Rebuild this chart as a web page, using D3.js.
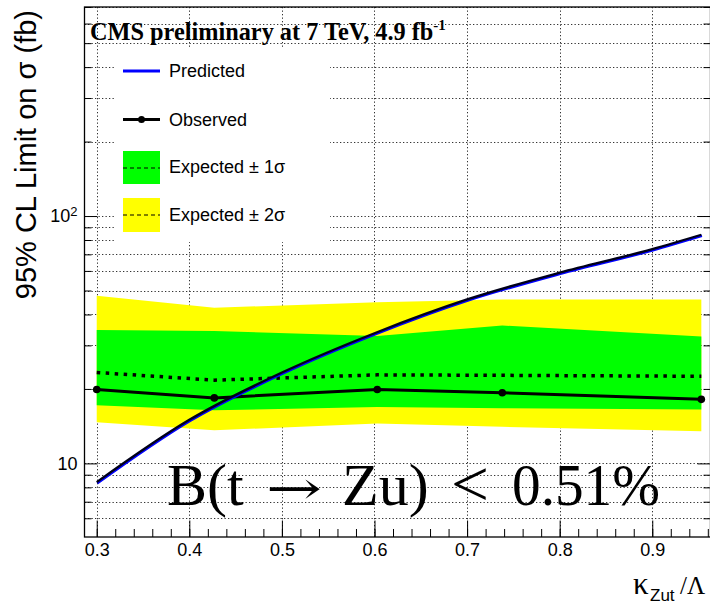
<!DOCTYPE html>
<html><head><meta charset="utf-8">
<script src="https://cdn.jsdelivr.net/npm/d3@7"></script>
<style>body{margin:0;background:#fff} svg{display:block}</style>
</head><body><svg id="c" width="710" height="607"></svg>
<script>
// ---- data ----
const kappa      = [0.3, 0.427, 0.603, 0.738, 0.953];
const observed   = [19.9, 18.4, 19.9, 19.3, 18.15];
const expected   = [23.3, 21.7, 22.8, 22.7, 22.5];
const band1Low   = [17.2, 16.4, 16.9, 16.7, 16.5];
const band1High  = [34.6, 34.3, 32.7, 36.1, 32.6];
const band2Low   = [14.65, 13.6, 14.5, 14.06, 13.5];
const band2High  = [47.6, 42.6, 44.8, 46.0, 46.0];
const predKappa  = [0.3, 0.4, 0.5, 0.6, 0.7, 0.8, 0.9, 0.953];
const predicted  = [8.4, 15.0, 23.3, 33.6, 46.0, 59.0, 73.5, 84.0];
const xTicks     = [0.3, 0.4, 0.5, 0.6, 0.7, 0.8, 0.9];
const xTickLabels= ["0.3","0.4","0.5","0.6","0.7","0.8","0.9"];
const xMinor     = d3.range(30, 97, 2).map(v => v / 100);
const yMajor     = [10, 100];
const yMinor     = [6,7,8,9,20,30,40,50,60,70,80,90,200,300,400,500,600,700];
const legendLabels = ["Predicted", "Observed", "Expected \u00B1 1\u03C3", "Expected \u00B1 2\u03C3"];

const svg = d3.select("#c");
const X0 = 84.5, X1 = 710.5, Y0 = 7, Y1 = 537;
const x = d3.scaleLinear().domain([0.2868, 0.9629]).range([X0, X1]);
const y = d3.scaleLog().domain([5.04, 700]).range([Y1, Y0]);

svg.append("defs").append("clipPath").attr("id","clip")
  .append("rect").attr("x",X0).attr("y",Y0).attr("width",X1-X0).attr("height",Y1-Y0);

// ---- grid ----
const grid = svg.append("g").attr("stroke","#333").attr("stroke-width",1).attr("stroke-dasharray","1.3,2.2");
[...yMajor, ...yMinor].forEach(v => {
  const yy = Math.round(y(v)) + 0.5;
  grid.append("line").attr("x1",X0).attr("x2",X1).attr("y1",yy).attr("y2",yy);
});
xTicks.forEach(v => {
  const xx = Math.round(x(v)) + 0.5;
  grid.append("line").attr("x1",xx).attr("x2",xx).attr("y1",Y0).attr("y2",Y1);
});

// ---- bands ----
const plot = svg.append("g").attr("clip-path","url(#clip)");
const idx = d3.range(kappa.length);
const area = (lo, hi) => d3.area().x(i => x(kappa[i])).y0(i => y(lo[i])).y1(i => y(hi[i]))(idx);
plot.append("path").attr("d", area(band2Low, band2High)).attr("fill","#ffff00");
plot.append("path").attr("d", area(band1Low, band1High)).attr("fill","#00ff00");

// expected dashed
plot.append("path")
  .attr("d", d3.line().x(i => x(kappa[i])).y(i => y(expected[i]))(idx))
  .attr("fill","none").attr("stroke","#000").attr("stroke-width",3.5).attr("stroke-dasharray","3.5,5.5");

// observed
plot.append("path")
  .attr("d", d3.line().x(i => x(kappa[i])).y(i => y(observed[i]))(idx))
  .attr("fill","none").attr("stroke","#000").attr("stroke-width",3);
plot.selectAll("circle.obs").data(idx).join("circle").attr("class","obs")
  .attr("cx", i => x(kappa[i])).attr("cy", i => y(observed[i])).attr("r",3.8).attr("fill","#000");

// predicted
const pIdx = d3.range(predKappa.length);
const predLine = d3.line().curve(d3.curveMonotoneX).x(i => x(predKappa[i])).y(i => y(predicted[i]))(pIdx);
plot.append("path").attr("d", predLine).attr("fill","none").attr("stroke","#0000ff")
  .attr("stroke-width",2.6).attr("transform","translate(0.6,1.1)");
plot.append("path").attr("d", predLine).attr("fill","none").attr("stroke","#000018").attr("stroke-width",2.3);

// ---- big formula text ----
const ft = svg.append("g").attr("font-family","Liberation Serif, serif").attr("font-size",60).attr("fill","#000");
ft.append("text").attr("x",167).attr("y",505).text("B(t");
ft.append("text").attr("x",266).attr("y",504).attr("font-family","DejaVu Serif, serif").attr("font-size",46)
  .attr("textLength",56).attr("lengthAdjust","spacingAndGlyphs").text("\u2192");
ft.append("text").attr("x",342).attr("y",505).text("Zu)");
ft.append("text").attr("x",451).attr("y",506).attr("font-size",66)
  .attr("textLength",38).attr("lengthAdjust","spacingAndGlyphs").text("<");
ft.append("text").attr("x",512).attr("y",505).attr("textLength",148).attr("lengthAdjust","spacingAndGlyphs").text("0.51%");

// ---- axes ----
const fmt = d => xTickLabels[xTicks.indexOf(d)];
const gx = svg.append("g").attr("transform",`translate(0,${Y1})`)
  .call(d3.axisBottom(x).tickValues(xTicks).tickFormat(fmt).tickSizeInner(-16.5).tickSizeOuter(0).tickPadding(6));
const gxm = svg.append("g").attr("transform",`translate(0,${Y1})`)
  .call(d3.axisBottom(x).tickValues(xMinor).tickFormat("").tickSizeInner(-8).tickSizeOuter(0));
const gy = svg.append("g").attr("transform",`translate(${X0},0)`)
  .call(d3.axisLeft(y).tickValues(yMajor).tickFormat(d => "10").tickSizeInner(-13).tickSizeOuter(0).tickPadding(7));
const gym = svg.append("g").attr("transform",`translate(${X0},0)`)
  .call(d3.axisLeft(y).tickValues(yMinor).tickFormat("").tickSizeInner(-7).tickSizeOuter(0));
const gyr = svg.append("g").attr("transform",`translate(${X1},0)`)
  .call(d3.axisRight(y).tickValues(yMajor).tickFormat("").tickSizeInner(-13).tickSizeOuter(0));
const gyrm = svg.append("g").attr("transform",`translate(${X1},0)`)
  .call(d3.axisRight(y).tickValues(yMinor).tickFormat("").tickSizeInner(-7).tickSizeOuter(0));
[gx,gxm,gy,gym,gyr,gyrm].forEach(g => {
  g.select(".domain").remove();
  g.selectAll("line").attr("stroke","#000").attr("stroke-width",1);
  g.selectAll("text").attr("font-family","Liberation Sans, Arial, sans-serif").attr("font-size",18).attr("fill","#000");
});
gy.selectAll(".tick text").each(function(d){
  if (d === 100) {
    d3.select(this).text("10").append("tspan").attr("dy","-0.45em").attr("font-size",13).text("2");
  }
});

// frame
svg.append("rect").attr("x",X0).attr("y",Y0).attr("width",X1-X0).attr("height",Y1-Y0)
  .attr("fill","none").attr("stroke","#000").attr("stroke-width",1.3);

// ---- axis titles ----
svg.append("text").attr("transform","translate(36,10) rotate(-90)").attr("text-anchor","end")
  .attr("font-family","Liberation Sans, Arial, sans-serif").attr("font-size",29).attr("fill","#000")
  .text("95% CL Limit on \u03C3 (fb)");
const xt = svg.append("text").attr("y",594).attr("fill","#000");
xt.append("tspan").attr("x",633).attr("font-family","Liberation Serif, serif").attr("font-size",31).text("\u03BA");
xt.append("tspan").attr("x",650).attr("dy",7).attr("font-family","Liberation Sans, Arial, sans-serif").attr("font-size",17).text("Zut");
xt.append("tspan").attr("x",680).attr("dy",-7).attr("font-family","Liberation Serif, serif").attr("font-size",25).text("/\u039B");

// ---- legend ----
svg.append("rect").attr("x",115).attr("y",47).attr("width",215).attr("height",195).attr("fill","#fff");
const lg = svg.append("g");
const lx0 = 123, lx1 = 160, ltx = 169;
const ly = [71, 119.5, 167, 215];
lg.append("line").attr("x1",lx0).attr("x2",lx1).attr("y1",ly[0]).attr("y2",ly[0]).attr("stroke","#0000ff").attr("stroke-width",3);
lg.append("line").attr("x1",lx0).attr("x2",lx1).attr("y1",ly[1]).attr("y2",ly[1]).attr("stroke","#000").attr("stroke-width",3);
lg.append("circle").attr("cx",(lx0+lx1)/2).attr("cy",ly[1]).attr("r",3.5).attr("fill","#000");
lg.append("rect").attr("x",lx0).attr("y",151).attr("width",lx1-lx0).attr("height",33).attr("fill","#00ff00");
lg.append("line").attr("x1",lx0).attr("x2",lx1).attr("y1",ly[2]+1).attr("y2",ly[2]+1).attr("stroke","#000").attr("stroke-width",1).attr("stroke-dasharray","4,3");
lg.append("rect").attr("x",lx0).attr("y",198).attr("width",lx1-lx0).attr("height",34).attr("fill","#ffff00");
lg.append("line").attr("x1",lx0).attr("x2",lx1).attr("y1",ly[3]).attr("y2",ly[3]).attr("stroke","#000").attr("stroke-width",1).attr("stroke-dasharray","4,3");
legendLabels.forEach((t,i) => {
  lg.append("text").attr("x",ltx).attr("y",ly[i]).attr("dy","0.35em")
    .attr("font-family","Liberation Sans, Arial, sans-serif").attr("font-size",18).attr("fill","#000").text(t);
});

// ---- title ----
const tt = svg.append("text").attr("x",90).attr("y",40).attr("font-family","Liberation Serif, serif")
  .attr("font-weight","bold").attr("font-size",24.3).attr("fill","#000");
tt.append("tspan").text("CMS preliminary at 7 TeV, 4.9 fb");
tt.append("tspan").attr("dy",-10).attr("font-size",15).text("-1");
</script></body></html>
